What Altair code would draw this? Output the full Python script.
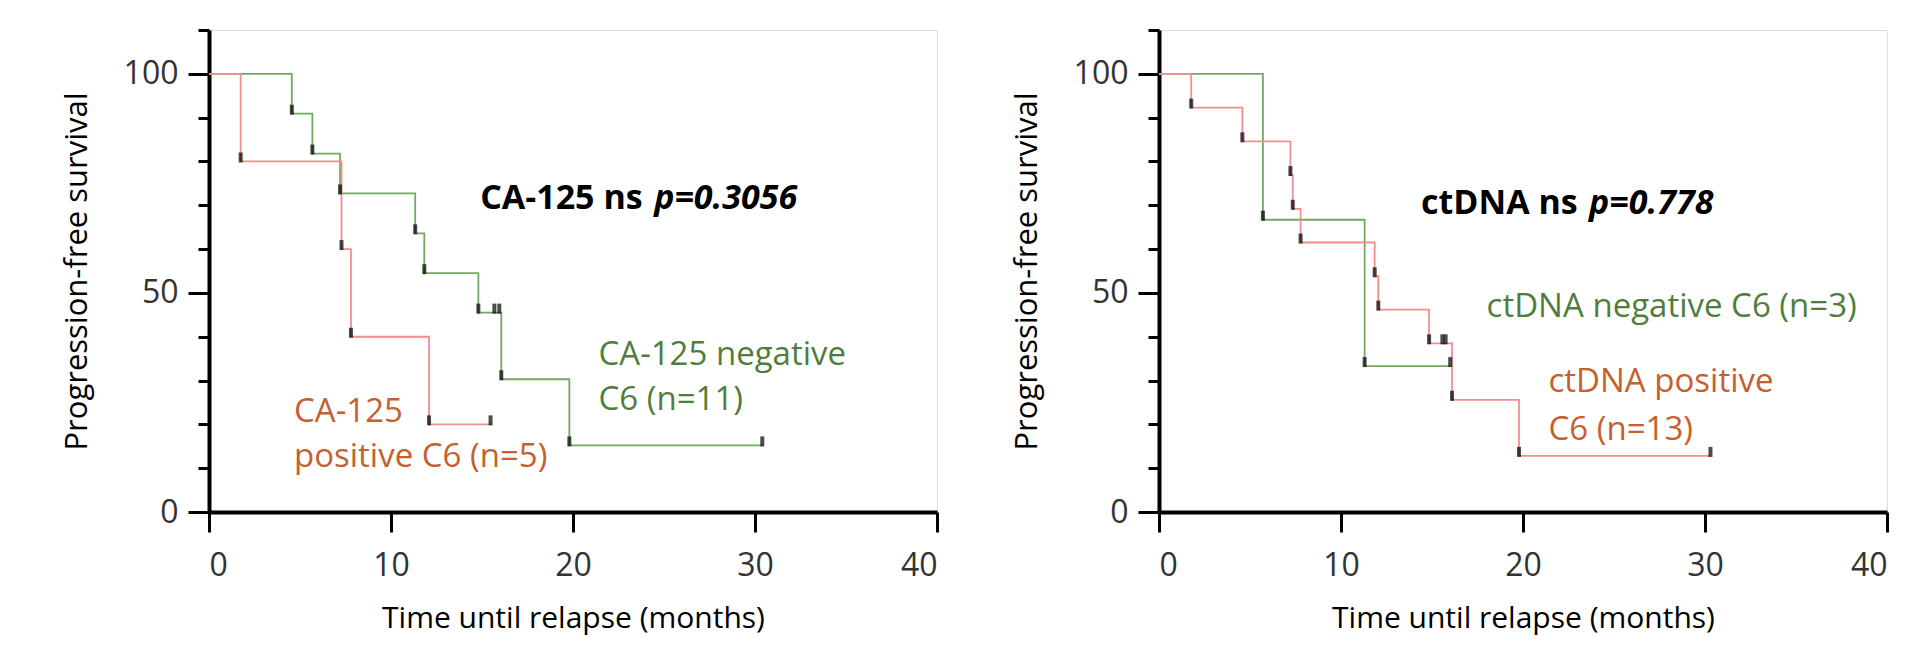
import altair as alt
import pandas as pd

# ---------------- data ----------------
# CA-125 panel
ca_neg_time = [0, 4.55, 5.68, 7.2, 11.33, 11.83, 14.8, 16.06, 19.8, 30.4]
ca_neg_surv = [100, 90.9, 81.8, 72.7, 63.6, 54.5, 45.5, 30.3, 15.2, 15.2]
ca_neg_cens_time = [15.68, 15.95]
ca_neg_cens_surv = [45.5, 45.5]
ca_pos_time = [0, 1.74, 7.28, 7.8, 12.09, 15.47]
ca_pos_surv = [100, 80, 60, 40, 20, 20]

# ctDNA panel
ct_neg_time = [0, 5.71, 11.3, 16.0]
ct_neg_surv = [100, 66.7, 33.3, 33.3]
ct_pos_time = [0, 1.77, 4.58, 7.22, 7.35, 7.78, 11.85, 12.05, 14.84, 16.1, 19.78, 30.3]
ct_pos_surv = [100, 92.3, 84.6, 76.9, 69.2, 61.5, 53.8, 46.2, 38.5, 25.6, 12.8, 12.8]
ct_pos_cens_time = [15.57, 15.75]
ct_pos_cens_surv = [38.5, 38.5]

x_ticks = [0, 10, 20, 30, 40]
y_ticks = list(range(0, 111, 5))

ca_stat_text = ["CA-125 ns", "p=0.3056"]
ca_neg_text = ["CA-125 negative", "C6 (n=11)"]
ca_pos_text = ["CA-125", "positive C6 (n=5)"]
ct_stat_text = ["ctDNA ns", "p=0.778"]
ct_neg_text = ["ctDNA negative C6 (n=3)"]
ct_pos_text = ["ctDNA positive", "C6 (n=13)"]

x_title = "Time until relapse (months)"
y_title = "Progression-free survival"

# ---------------- styling ----------------
FONT = "Open Sans"
GREEN_LINE = "#72A862"
RED_LINE = "#F28E8E"
GREEN_TEXT = "#4F7E3A"
RED_TEXT = "#C4612E"
W, H = 728, 482


def x_enc():
    return alt.X(
        "time:Q",
        scale=alt.Scale(domain=[0, 40], nice=False, zero=True),
        axis=alt.Axis(
            values=x_ticks, tickSize=20, tickWidth=3, tickColor="black",
            domainWidth=4, domainColor="black", labelFontSize=32,
            labelColor="#333333", labelPadding=18, labelFont=FONT,
            titleFont=FONT, titleFontSize=30, titleFontWeight="normal",
            titleColor="black", titlePadding=22, grid=False,
        ),
        title=x_title,
    )


def y_enc():
    return alt.Y(
        "surv:Q",
        scale=alt.Scale(domain=[0, 110], nice=False),
        axis=alt.Axis(
            values=y_ticks,
            labelExpr="datum.value % 50 === 0 ? datum.label : ''",
            tickSize={"condition": {"test": "datum.value % 50 === 0", "value": 21}, "value": 11},
            tickWidth=3, tickColor="black", domainWidth=4, domainColor="black",
            labelFontSize=32, labelColor="#333333", labelPadding=10, labelFont=FONT,
            titleFont=FONT, titleFontSize=31, titleFontWeight="normal",
            titleColor="black", titlePadding=30, grid=False,
        ),
        title=y_title,
    )


def text_layer(xs, ys, texts, color, weight="normal", style="normal", size=33, dx=0):
    df = pd.DataFrame({"time": xs, "surv": ys, "label": texts})
    return alt.Chart(df).mark_text(
        align="left", baseline="alphabetic", font=FONT, fontSize=size,
        fontWeight=weight, fontStyle=style, color=color, dx=dx,
    ).encode(x="time:Q", y="surv:Q", text="label:N")


def panel(neg_t, neg_s, pos_t, pos_s, cens_t, cens_s, texts):
    curve_df = pd.DataFrame({
        "time": neg_t + pos_t,
        "surv": neg_s + pos_s,
        "group": ["negative"] * len(neg_t) + ["positive"] * len(pos_t),
    })
    tick_df = pd.DataFrame({
        "time": neg_t[1:] + pos_t[1:] + cens_t,
        "surv": neg_s[1:] + pos_s[1:] + cens_s,
    })
    lines = alt.Chart(curve_df).mark_line(
        interpolate="step-after", strokeWidth=1.8
    ).encode(
        x=x_enc(), y=y_enc(),
        color=alt.Color("group:N", scale=alt.Scale(domain=["negative", "positive"],
                                                   range=[GREEN_LINE, RED_LINE]), legend=None),
    )
    ticks = alt.Chart(tick_df).mark_tick(
        orient="vertical", size=10, thickness=4, color="black", yOffset=-4
    ).encode(x="time:Q", y="surv:Q")
    return alt.layer(lines, ticks, *texts).properties(width=W, height=H)


left_texts = [
    text_layer([14.9], [69.2], [ca_stat_text[0]], "black", weight="bold", size=34),
    text_layer([14.9], [69.2], [ca_stat_text[1]], "black", weight="bold", style="italic",
               size=34, dx=174),
    text_layer([21.4, 21.4], [33.6, 23.3], ca_neg_text, GREEN_TEXT),
    text_layer([4.67, 4.67], [20.5, 10.3], ca_pos_text, RED_TEXT),
]
right_texts = [
    text_layer([14.4], [68.0], [ct_stat_text[0]], "black", weight="bold", size=34),
    text_layer([14.4], [68.0], [ct_stat_text[1]], "black", weight="bold", style="italic",
               size=34, dx=168),
    text_layer([18.0], [44.5], ct_neg_text, GREEN_TEXT),
    text_layer([21.4, 21.4], [27.4, 16.4], ct_pos_text, RED_TEXT),
]

left = panel(ca_neg_time, ca_neg_surv, ca_pos_time, ca_pos_surv,
             ca_neg_cens_time, ca_neg_cens_surv, left_texts)
right = panel(ct_neg_time, ct_neg_surv, ct_pos_time, ct_pos_surv,
              ct_pos_cens_time, ct_pos_cens_surv, right_texts)

chart = alt.hconcat(left, right, spacing=71).properties(
    padding={"top": 20, "left": 52, "right": 0, "bottom": 6}
).configure_view(stroke=None).configure(font=FONT)

chart.save("out.html", embed_options={"renderer": "svg", "actions": False})
